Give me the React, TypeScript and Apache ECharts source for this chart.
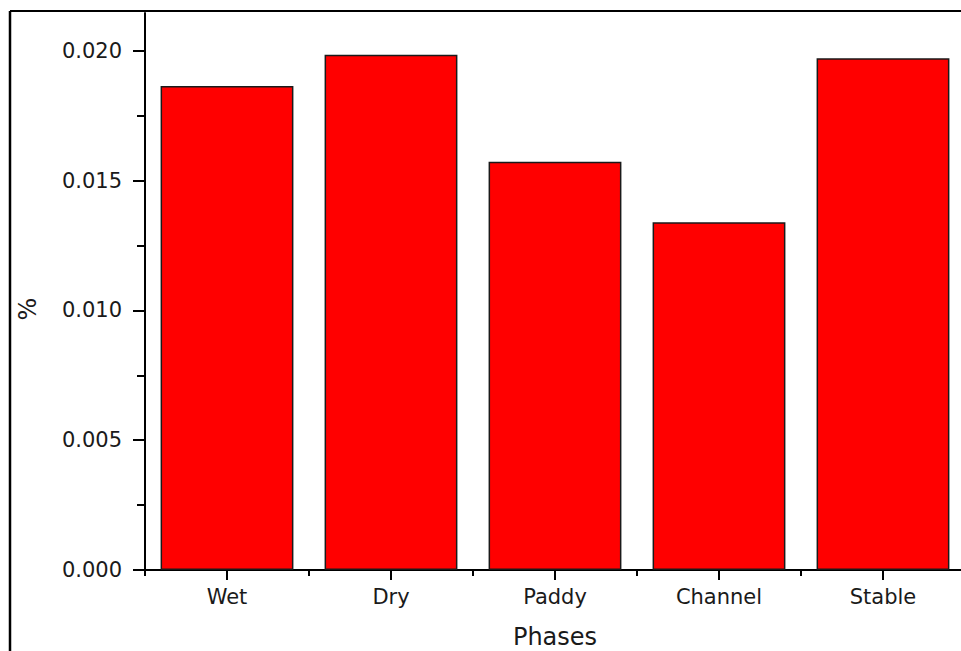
import React, { useEffect, useRef } from "react";
import * as echarts from "echarts";

const categories = ["Wet", "Dry", "Paddy", "Channel", "Stable"];
const values = [0.01865, 0.01985, 0.01573, 0.0134, 0.01972];
const yMajorTicks = [0, 0.005, 0.01, 0.015, 0.02];
const yMinorTicks = [0.0025, 0.0075, 0.0125, 0.0175];
const yMax = 0.02146;
const xTitle = "Phases";
const yTitle = "%";

const FONT = "DejaVu Sans";
const TEXT = "#1a1a1a";

export default function App() {
  const ref = useRef<HTMLDivElement>(null);
  useEffect(() => {
    if (!ref.current) return;
    const chart = echarts.init(ref.current, null, { renderer: "svg" });
    chart.setOption({
      animation: false,
      backgroundColor: "#ffffff",
      textStyle: { fontFamily: FONT },
      grid: { left: 145, top: 13, bottom: 81, right: -4, containLabel: false, outerBoundsMode: "none" },
      xAxis: [
        {
          type: "category",
          data: categories,
          position: "bottom",
          axisLine: { show: true, lineStyle: { color: "#000", width: 2 } },
          axisTick: { show: true, alignWithLabel: true, length: 10, interval: 0, lineStyle: { color: "#000", width: 2 } },
          axisLabel: { fontSize: 21, color: TEXT, margin: 16, fontFamily: FONT, interval: 0 },
          splitLine: { show: false },
          name: xTitle,
          nameLocation: "middle",
          nameGap: 55,
          nameTextStyle: { fontSize: 24, lineHeight: 24, color: TEXT, fontFamily: FONT },
        },
        {
          type: "category",
          data: categories,
          position: "bottom",
          axisLine: { show: false },
          axisTick: { show: true, alignWithLabel: false, length: 6, interval: 0, lineStyle: { color: "#000", width: 2 } },
          axisLabel: { show: false },
          splitLine: { show: false },
        },
      ],
      yAxis: [
        {
          type: "value",
          min: 0,
          max: yMax,
          position: "left",
          axisLine: { show: true, lineStyle: { color: "#000", width: 2 } },
          axisTick: { show: true, customValues: yMajorTicks, length: 12, lineStyle: { color: "#000", width: 2 } },
          axisLabel: {
            customValues: yMajorTicks,
            formatter: (v: number) => v.toFixed(3),
            fontSize: 21,
            color: TEXT,
            margin: 23,
            fontFamily: FONT,
          },
          splitLine: { show: false },
        },
        {
          type: "value",
          min: 0,
          max: yMax,
          position: "left",
          axisLine: { show: false },
          axisTick: { show: true, customValues: yMinorTicks, length: 8, lineStyle: { color: "#000", width: 2 } },
          axisLabel: { show: false },
          splitLine: { show: false },
        },
      ],
      series: [
        {
          type: "bar",
          xAxisIndex: 0,
          yAxisIndex: 0,
          data: values,
          barCategoryGap: "19%",
          itemStyle: { color: "#ff0000", borderColor: "#1a1a1a", borderWidth: 1.5 },
        },
      ],
      graphic: [
        { type: "line", shape: { x1: 10, y1: 11, x2: 961, y2: 11 }, style: { stroke: "#000", lineWidth: 2 } },
        { type: "line", shape: { x1: 10, y1: 11, x2: 10, y2: 651 }, style: { stroke: "#000", lineWidth: 2.5 } },
        {
          type: "text",
          x: 28,
          y: 309,
          rotation: Math.PI / 2,
          style: { text: yTitle, fontSize: 24, fill: TEXT, fontFamily: FONT, align: "center", verticalAlign: "middle" },
        },
      ],
    });
    return () => chart.dispose();
  }, []);
  return <div ref={ref} style={{ position: "absolute", left: 0, top: 0, width: 961, height: 651 }} />;
}
